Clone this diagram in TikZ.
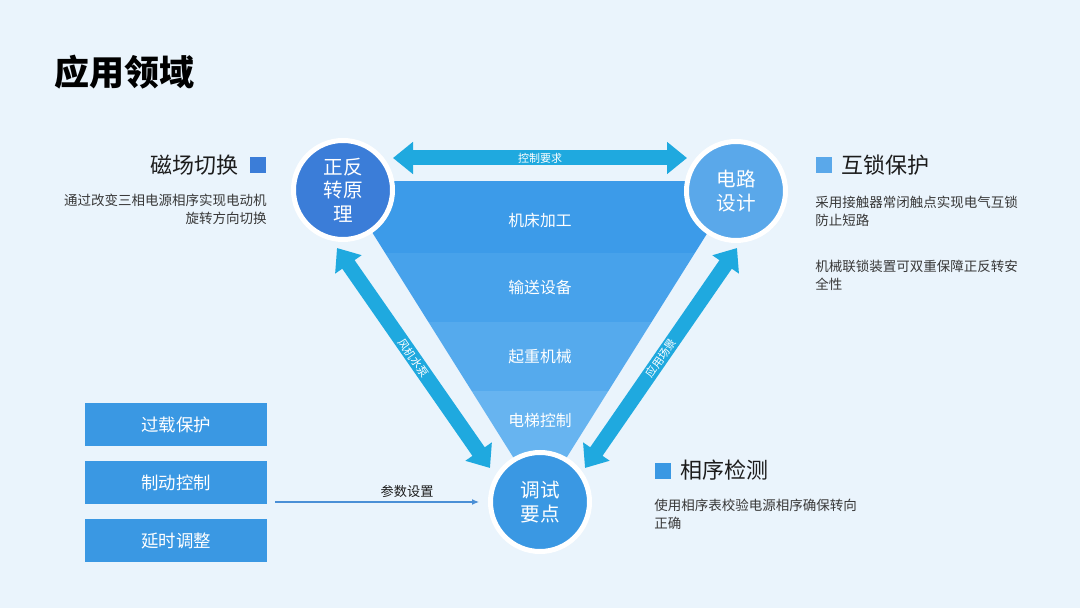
\documentclass[tikz,border=0pt]{standalone}
\usepackage{fontspec}
\setmainfont{Noto Sans CJK SC}
\usepackage{xcolor}
\usetikzlibrary{arrows.meta, positioning, calc}
\definecolor{bgblue}{RGB}{234,244,252}
\definecolor{hubdark}{RGB}{59,125,216}
\definecolor{hubmid}{RGB}{58,152,227}
\definecolor{hublight}{RGB}{90,168,234}
\definecolor{arrowcyan}{RGB}{31,169,223}
\definecolor{bandA}{RGB}{60,155,233}
\definecolor{bandB}{RGB}{71,162,235}
\definecolor{bandC}{RGB}{85,170,237}
\definecolor{bandD}{RGB}{103,180,240}
\definecolor{headink}{RGB}{28,28,28}
\definecolor{bodyink}{RGB}{56,56,56}
\definecolor{thinline}{RGB}{74,143,214}

\tikzset{
  hub/.style={circle,draw=white,line width=2.5pt,inner sep=0pt,minimum size=49.5pt,
              text=white,align=center,font=\fontsize{9.8}{11.8}\selectfont},
  bigarrow/.style={arrowcyan,line width=7.5pt,
              {Triangle[width=15.5pt,length=10pt]}-{Triangle[width=15.5pt,length=10pt]}},
  arrowlabel/.style={text=white,inner sep=0.5pt,font=\fontsize{5.5}{6}\selectfont},
  bandlabel/.style={text=white,font=\fontsize{7.9}{9}\selectfont},
  sidebox/.style={fill=hubmid,minimum width=91pt,minimum height=21.5pt,inner sep=0pt,
              text=white,font=\fontsize{8.7}{10}\selectfont},
  marker/.style={minimum size=8pt,inner sep=0pt},
  heading/.style={text=headink,inner sep=0pt,font=\fontsize{11}{13}\selectfont},
  bodytext/.style={text=bodyink,inner sep=0pt,font=\fontsize{6.75}{8.9}\selectfont}
}

\begin{document}
\begin{tikzpicture}[x=0.5pt,y=-0.5pt]
  \useasboundingbox (0,0) rectangle (1080,608);
  \fill[bgblue] (0,0) rectangle (1080,608);

  % title
  \node[anchor=west,inner sep=0pt,text=black,font=\fontsize{17.5}{20}\bfseries] (title)
    at (54,72) {应用领域};

  % funnel
  \begin{scope}
    \clip (340,181) -- (740,181) -- (540,500) -- cycle;
    \fill[bandA] (300,181) rectangle (780,253);
    \fill[bandB] (300,253) rectangle (780,322);
    \fill[bandC] (300,322) rectangle (780,391);
    \fill[bandD] (300,391) rectangle (780,510);
  \end{scope}
  \node[bandlabel] (f1) at (540,220) {机床加工};
  \node[bandlabel] (f2) at (540,287) {输送设备};
  \node[bandlabel] (f3) at (540,357) {起重机械};
  \node[bandlabel] (f4) at (540,420) {电梯控制};

  % double arrows
  \coordinate (ta1) at (393,158);
  \coordinate (ta2) at (687,158);
  \coordinate (la1) at (337,248);
  \coordinate (la2) at (490,468);
  \coordinate (ra1) at (737,248);
  \coordinate (ra2) at (585,468);
  \draw[bigarrow] (ta1) -- (ta2) node[midway,arrowlabel] {控制要求};
  \draw[bigarrow] (la1) -- (la2) node[midway,sloped,arrowlabel] {风机水泵};
  \draw[bigarrow] (ra2) -- (ra1) node[midway,sloped,arrowlabel] {应用场景};

  % hubs
  \node[hub,fill=hubdark] (principle) at (343,190) {正反\\转原\\理};
  \node[hub,fill=hublight] (circuit) at (736,191) {电路\\设计};
  \node[hub,fill=hubmid] (debug) at (540,502) {调试\\要点};

  % side boxes
  \node[sidebox] (overload) at (176,425) {过载保护};
  \node[sidebox,below=7pt of overload] (brake) {制动控制};
  \node[sidebox,below=7pt of brake] (delay) {延时调整};

  % parameter line
  \coordinate (pstart) at (275,502);
  \draw[thinline,line width=0.6pt,-{Latex[length=3.5pt,width=3pt]},shorten >=4.5pt]
    (pstart) -- (debug.west)
    node[pos=0.62,above=2pt,text=headink,inner sep=0pt,font=\fontsize{6.6}{8}\selectfont] {参数设置};

  % left note
  \node[marker,fill=hubdark] (mk1) at (257.5,165.5) {};
  \node[heading,left=5pt of mk1] (h1) {磁场切换};
  \node[bodytext,anchor=north east,align=right] (d1) at (267,194)
    {通过改变三相电源相序实现电动机\\旋转方向切换};

  % right note
  \node[marker,fill=hublight] (mk2) at (823.5,165.5) {};
  \node[heading,right=4.5pt of mk2] (h2) {互锁保护};
  \node[bodytext,anchor=north west,align=left] (d2) at (815,196)
    {采用接触器常闭触点实现电气互锁\\防止短路};
  \node[bodytext,anchor=north west,align=left] (d3) at (815,260)
    {机械联锁装置可双重保障正反转安\\全性};

  % bottom note
  \node[marker,fill=hubmid] (mk3) at (662.5,470.5) {};
  \node[heading,right=4.5pt of mk3] (h3) {相序检测};
  \node[bodytext,anchor=north west,align=left] (d4) at (654,499)
    {使用相序表校验电源相序确保转向\\正确};
\end{tikzpicture}
\end{document}
